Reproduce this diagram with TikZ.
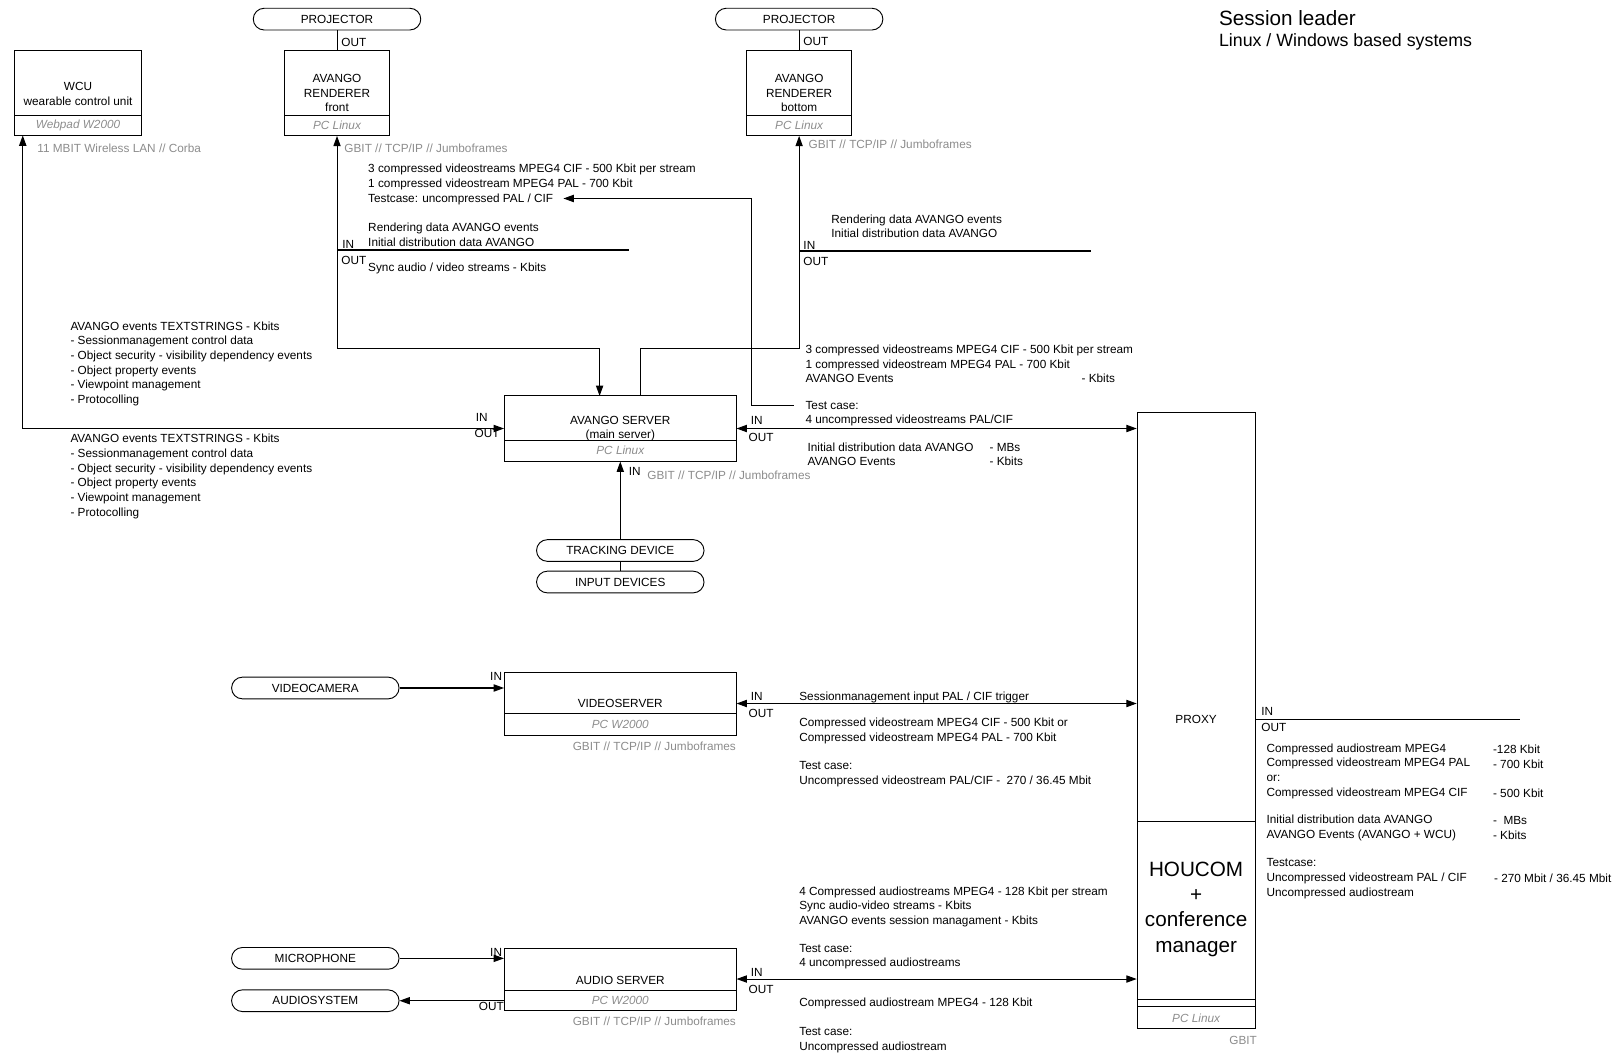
\documentclass[tikz,border=0pt]{standalone}
\usepackage{fontspec}
\setmainfont{Liberation Sans}
\usetikzlibrary{arrows.meta,calc}

\tikzset{
    every node/.style={font=\fontsize{11.4}{14.2}\selectfont, inner sep=0pt},
    txt/.style={anchor=west, align=left},
    remark/.style={txt, text=black!45},
    platform/.style={text=black!45, font=\fontsize{11.4}{14.2}\selectfont\itshape},
    frame/.style={draw, line width=0.9pt},
    device/.style={draw, line width=0.9pt, rounded corners=10.5pt,
        minimum width=162pt, minimum height=21pt},
    link/.style={line width=1pt},
    sep/.style={line width=1.4pt},
    >={Triangle[length=10pt,width=7pt]},
}

% name, west, north, east, south, divider, label centre, label, platform
\newcommand{\pcbox}[9]{%
    \node[frame, minimum width={#4-#2}, minimum height={#5-#3}] (#1) at ({(#2+#4)/2},{(#3+#5)/2}) {};
    \draw[frame] (#2,#6) -- (#4,#6);
    \node[align=center] (#1-label) at ({(#2+#4)/2},#7) {#8};
    \node[platform] (#1-os) at ({(#2+#4)/2},{(#6+#5)/2}) {#9};
}

\begin{document}
\begin{tikzpicture}[x=1pt,y=-1pt]
    \useasboundingbox (0,0) rectangle (1568,1019);

    % computers
    \pcbox{wcu}{14}{49}{137}{131}{112}{91}{WCU\\wearable control unit}{Webpad W2000}
    \pcbox{rf}{275}{49}{377}{131}{112}{90}{AVANGO\\RENDERER\\front}{PC Linux}
    \pcbox{rb}{722}{49}{824}{131}{112}{90}{AVANGO\\RENDERER\\bottom}{PC Linux}
    \pcbox{srv}{488}{383}{712}{446}{426}{414.5}{AVANGO SERVER\\(main server)}{PC Linux}
    \pcbox{vid}{488}{650}{712}{711}{690}{680.5}{VIDEOSERVER}{PC W2000}
    \pcbox{aud}{488}{917}{712}{977}{958}{948.5}{AUDIO SERVER}{PC W2000}

    % session leader
    \node[frame, minimum width=114pt, minimum height=596pt] (hc) at (1157,697) {};
    \draw[frame] (1100,795) -- (1214,795);
    \draw[frame] (1100,967) -- (1214,967);
    \draw[frame] (1100,974) -- (1214,974);
    \node (proxy) at (1157,696) {PROXY};
    \node[align=center, font=\fontsize{20}{24.5}\selectfont] (houcom) at (1157,879.5)
        {HOUCOM\\+\\conference\\manager};
    \node[platform] (hc-os) at (1157,984.5) {PC Linux};
    \node[remark, anchor=east] (hc-net) at (1216,1006) {GBIT};

    \node[txt, font=\fontsize{20}{23}\selectfont] (title) at (1179,18) {Session leader};
    \node[txt, font=\fontsize{17.2}{20}\selectfont] (subtitle) at (1179,41) {Linux / Windows based systems};

    % devices
    \node[device] (proj1) at (326,18.5) {PROJECTOR};
    \node[device] (proj2) at (773,18.5) {PROJECTOR};
    \node[device] (track) at (600,532.5) {TRACKING DEVICE};
    \node[device] (input) at (600,563) {INPUT DEVICES};
    \node[device] (cam) at (305,665.5) {VIDEOCAMERA};
    \node[device] (mic) at (305,927) {MICROPHONE};
    \node[device] (sys) at (305,968) {AUDIOSYSTEM};

    % turning points
    \coordinate (wcuin) at (22,131);
    \coordinate (rfturn) at (326,337);
    \coordinate (srvin) at (580,383);
    \coordinate (srvout) at (620,383);
    \coordinate (rbturn) at (773,337);
    \coordinate (rfio) at (326,242);
    \coordinate (rfioend) at (608,242);
    \coordinate (rbio) at (773,243);
    \coordinate (rbioend) at (1055,243);
    \coordinate (tcstart) at (768,392);
    \coordinate (tcturn) at (727,192);
    \coordinate (tcend) at (545,192);
    \coordinate (hcioend) at (1470,696);

    % connections
    \draw[link] (proj1.south) -- (rf.north);
    \draw[link] (proj2.south) -- (rb.north);
    \draw[link,<->] (wcuin) |- (srv.west);
    \draw[link,<->] (rf.south) -- (rfturn) -| (srvin);
    \draw[link,->] (srvout) |- (rbturn) -- (rb.south);
    \draw[sep] (rfio) -- (rfioend);
    \draw[sep] (rbio) -- (rbioend);
    \draw[link,->] (tcstart) -| (tcturn) -- (tcend);
    \draw[link,<->] (srv.east) -- (srv.east -| hc.west);
    \draw[link,->] (track.north) -- (srv.south);
    \draw[link] (track.south) -- (input.north);
    \draw[link,->] (cam.east) -- (cam.east -| vid.west);
    \draw[link,<->] (vid.east) -- (vid.east -| hc.west);
    \draw[link,->] (mic.east) -- (mic.east -| aud.west);
    \draw[link,->] (sys.east -| aud.west) -- (sys.east);
    \draw[link,<->] (aud.east) -- (aud.east -| hc.west);
    \draw[link] (hcioend -| hc.east) -- (hcioend);

    % in / out
    \node[txt] (proj1-out) at (330,41) {OUT};
    \node[txt] (proj2-out) at (777,40) {OUT};
    \node[txt] (rf-in) at (331,236) {IN};
    \node[txt] (rf-out) at (330,252) {OUT};
    \node[txt] (rb-in) at (777,237) {IN};
    \node[txt] (rb-out) at (777,253) {OUT};
    \node[txt] (srvl-in) at (460,404) {IN};
    \node[txt] (srvl-out) at (459,419) {OUT};
    \node[txt] (srvr-in) at (726,407) {IN};
    \node[txt] (srvr-out) at (724,423) {OUT};
    \node[txt] (srvb-in) at (608,456) {IN};
    \node[txt] (vidl-in) at (474,654) {IN};
    \node[txt] (vidr-in) at (726,674) {IN};
    \node[txt] (vidr-out) at (724,690) {OUT};
    \node[txt] (hc-in) at (1220,688) {IN};
    \node[txt] (hc-out) at (1220,704) {OUT};
    \node[txt] (audl-in) at (474,921) {IN};
    \node[txt] (audl-out) at (463,974) {OUT};
    \node[txt] (audr-in) at (726,941) {IN};
    \node[txt] (audr-out) at (724,957) {OUT};

    % networks
    \node[remark] (wcu-net) at (36,143) {11 MBIT Wireless LAN // Corba};
    \node[remark] (rf-net) at (333,143) {GBIT // TCP/IP // Jumboframes};
    \node[remark] (rb-net) at (782,140) {GBIT // TCP/IP // Jumboframes};
    \node[remark] (srv-net) at (626,460) {GBIT // TCP/IP // Jumboframes};
    \node[remark, anchor=east] (vid-net) at (712,722) {GBIT // TCP/IP // Jumboframes};
    \node[remark, anchor=east] (aud-net) at (712,988) {GBIT // TCP/IP // Jumboframes};

    % data
    \node[txt] (ev-in) at (68,352) {AVANGO events TEXTSTRINGS - Kbits\\- Sessionmanagement control data\\- Object security - visibility dependency events\\- Object property events\\- Viewpoint management\\- Protocolling};
    \node[txt] (ev-out) at (68,461) {AVANGO events TEXTSTRINGS - Kbits\\- Sessionmanagement control data\\- Object security - visibility dependency events\\- Object property events\\- Viewpoint management\\- Protocolling};
    \node[txt] (rf-data1) at (356,178.5) {3 compressed videostreams MPEG4 CIF - 500 Kbit per stream\\1 compressed videostream MPEG4 PAL - 700 Kbit\\Testcase: uncompressed PAL / CIF};
    \node[txt] (rf-data2) at (356,227) {Rendering data AVANGO events\\Initial distribution data AVANGO};
    \node[txt] (rf-data3) at (356,260) {Sync audio / video streams - Kbits};
    \node[txt] (rb-data) at (804,219) {Rendering data AVANGO events\\Initial distribution data AVANGO};
    \node[txt] (srv-data1) at (779,352) {3 compressed videostreams MPEG4 CIF - 500 Kbit per stream\\1 compressed videostream MPEG4 PAL - 700 Kbit\\AVANGO Events};
    \node[txt] (srv-rate1) at (1046,366) {- Kbits};
    \node[txt] (srv-data2) at (779,400) {Test case:\\4 uncompressed videostreams PAL/CIF};
    \node[txt] (srv-data3) at (781,439.5) {Initial distribution data AVANGO\\AVANGO Events};
    \node[txt] (srv-rate3) at (957,439.5) {- MBs\\- Kbits};
    \node[txt] (vid-data1) at (773,675) {Sessionmanagement input PAL / CIF trigger};
    \node[txt] (vid-data2) at (773,707) {Compressed videostream MPEG4 CIF - 500 Kbit or\\Compressed videostream MPEG4 PAL - 700 Kbit};
    \node[txt] (vid-data3) at (773,749) {Test case:\\Uncompressed videostream PAL/CIF -~~270 / 36.45 Mbit};
    \node[txt] (aud-data1) at (773,877) {4 Compressed audiostreams MPEG4 - 128 Kbit per stream\\Sync audio-video streams - Kbits\\AVANGO events session managament - Kbits};
    \node[txt] (aud-data2) at (773,925.5) {Test case:\\4 uncompressed audiostreams};
    \node[txt] (aud-data3) at (773,971) {Compressed audiostream MPEG4 - 128 Kbit};
    \node[txt] (aud-data4) at (773,1006) {Test case:\\Uncompressed audiostream};
    \node[txt] (hc-data1) at (1225,746) {Compressed audiostream MPEG4\\Compressed videostream MPEG4 PAL\\or:\\Compressed videostream MPEG4 CIF};
    \node[txt] (hc-rate1) at (1444,746) {-128 Kbit\\- 700 Kbit\\\mbox{}\\- 500 Kbit};
    \node[txt] (hc-data2) at (1225,801) {Initial distribution data AVANGO\\AVANGO Events (AVANGO + WCU)};
    \node[txt] (hc-rate2) at (1444,801) {-~~MBs\\- Kbits};
    \node[txt] (hc-data3) at (1225,850) {Testcase:\\Uncompressed videostream PAL / CIF\\Uncompressed audiostream};
    \node[txt] (hc-rate3) at (1445,850) {- 270 Mbit / 36.45 Mbit};
\end{tikzpicture}
\end{document}
